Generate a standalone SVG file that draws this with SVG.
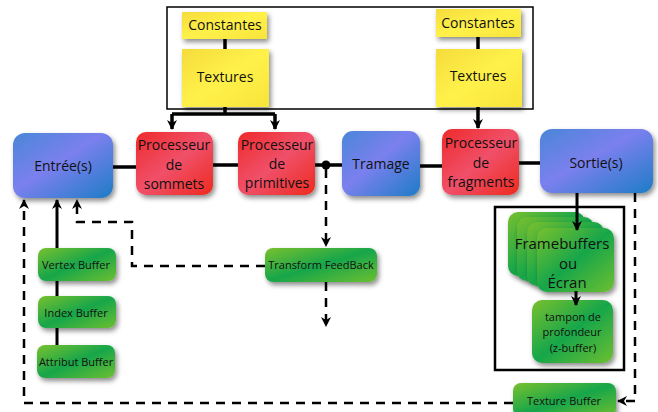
<svg xmlns="http://www.w3.org/2000/svg" width="658" height="412" viewBox="0 0 658 412">
<defs>
<linearGradient id="gBlue" x1="0" y1="0" x2="1" y2="1"><stop offset="0" stop-color="#4a86d8"/><stop offset="0.45" stop-color="#7b80ee"/><stop offset="1" stop-color="#1d7cc6"/></linearGradient>
<linearGradient id="gRed" x1="0" y1="0" x2="1" y2="1"><stop offset="0" stop-color="#ee2a2a"/><stop offset="0.5" stop-color="#f0506a"/><stop offset="1" stop-color="#ee2a1e"/></linearGradient>
<linearGradient id="gGreen" x1="0" y1="0" x2="1" y2="1"><stop offset="0" stop-color="#79c02e"/><stop offset="0.5" stop-color="#17a64a"/><stop offset="1" stop-color="#6cbf30"/></linearGradient>
<linearGradient id="gYellow" x1="0" y1="0" x2="1" y2="1"><stop offset="0" stop-color="#f5dc3c"/><stop offset="0.5" stop-color="#fff14a"/><stop offset="1" stop-color="#f8e43a"/></linearGradient>
<filter id="sh" x="-20%" y="-20%" width="150%" height="160%"><feDropShadow dx="2" dy="3" stdDeviation="2.5" flood-color="#000" flood-opacity="0.45"/></filter>
<marker id="ar" viewBox="0 0 10 10" refX="9" refY="5" markerWidth="10" markerHeight="10" markerUnits="userSpaceOnUse" orient="auto"><path d="M0,0 L10,5 L0,10 L3,5 Z" fill="#000"/></marker>
<style>
.t{font-family:"Open Sans","Liberation Sans",sans-serif;fill:#111;text-anchor:middle}
.b{font-size:14px}
.s{font-size:11px}
.ln{stroke:#000;stroke-width:3.5;fill:none}
.dl{stroke:#000;stroke-width:2.5;fill:none;stroke-dasharray:9,7}
.fr{stroke:#000;stroke-width:1.5;fill:#fff}
.yel{fill:url(#gYellow);filter:url(#sh)}
.blu{fill:url(#gBlue);filter:url(#sh)}
.red{fill:url(#gRed);filter:url(#sh)}
.grn{fill:url(#gGreen);filter:url(#sh)}
</style>
</defs>
<rect class="fr" x="167" y="7" width="366" height="102"/>
<rect x="495" y="207" width="129" height="163" fill="none" stroke="#000" stroke-width="2.5"/>
<g id="constantes1"><rect class="yel" x="182" y="12" width="85" height="27"/><text class="t b" x="225" y="30">Constantes</text></g>
<g id="textures1"><rect class="yel" x="182" y="49" width="87" height="58"/><text class="t b" x="225" y="82">Textures</text></g>
<g id="constantes2"><rect class="yel" x="436" y="9" width="85" height="28"/><text class="t b" x="478" y="28">Constantes</text></g>
<g id="textures2"><rect class="yel" x="436" y="49" width="86" height="58"/><text class="t b" x="478" y="81">Textures</text></g>
<g id="entree"><rect class="blu" x="13" y="133" width="100" height="65" rx="12"/><text class="t b" x="63" y="171">Entrée(s)</text></g>
<g id="sommets"><rect class="red" x="136" y="132" width="77" height="63" rx="10"/><text class="t b" x="174" y="150">Processeur</text><text class="t b" x="174" y="170">de</text><text class="t b" x="174" y="189">sommets</text></g>
<g id="primitives"><rect class="red" x="238" y="132" width="77" height="63" rx="10"/><text class="t b" x="277" y="150">Processeur</text><text class="t b" x="277" y="169">de</text><text class="t b" x="277" y="188">primitives</text></g>
<g id="tramage"><rect class="blu" x="342" y="131" width="78" height="65" rx="11"/><text class="t b" x="381" y="169">Tramage</text></g>
<g id="fragments"><rect class="red" x="442" y="129" width="77" height="66" rx="10"/><text class="t b" x="481" y="148">Processeur</text><text class="t b" x="481" y="168">de</text><text class="t b" x="481" y="187">fragments</text></g>
<g id="sortie"><rect class="blu" x="540" y="129" width="113" height="64" rx="12"/><text class="t b" x="596" y="168">Sortie(s)</text></g>
<g id="vertex"><rect class="grn" x="38" y="248" width="78" height="33" rx="8"/><text class="t s" x="76" y="269">Vertex Buffer</text></g>
<g id="index"><rect class="grn" x="38" y="296" width="78" height="32" rx="8"/><text class="t s" x="76" y="317">Index Buffer</text></g>
<g id="attribut"><rect class="grn" x="37" y="345" width="78" height="33" rx="8"/><text class="t s" x="76" y="366">Attribut Buffer</text></g>
<g id="feedback"><rect class="grn" x="265" y="248" width="112" height="34" rx="8"/><text class="t s" x="321" y="269">Transform FeedBack</text></g>
<g id="framebuffers">
<rect class="grn" x="508" y="212" width="77" height="64" rx="10"/>
<rect class="grn" x="517" y="217" width="77" height="64" rx="10"/>
<rect class="grn" x="527" y="222" width="77" height="64" rx="10"/>
<rect class="grn" x="537" y="228" width="77" height="64" rx="10"/>
<text class="t" style="font-size:15px" x="562" y="249">Framebuffers</text>
<text class="t" style="font-size:15px" x="568" y="269">ou</text>
<text class="t" style="font-size:15px" x="567" y="288">Écran</text>
</g>
<g id="zbuffer"><rect class="grn" x="532" y="300" width="81" height="63" rx="10"/><text class="t s" x="573" y="321">tampon de</text><text class="t s" x="572" y="336">profondeur</text><text class="t s" x="573" y="352">(z-buffer)</text></g>
<g id="texturebuffer"><rect class="grn" x="513" y="383" width="103" height="34" rx="8"/><text class="t s" x="564" y="405">Texture Buffer</text></g>
<g id="connectors">
<path class="ln" d="M225,39 V49 M478,37 V49"/>
<path class="ln" d="M225,107 V114 M172,114 H275"/>
<path class="ln" d="M172,114 V129" marker-end="url(#ar)"/>
<path class="ln" d="M275,114 V129" marker-end="url(#ar)"/>
<path class="ln" d="M478,107 V128" marker-end="url(#ar)"/>
<path class="ln" d="M113,167 H136 M213,165 H238 M315,165 H342 M420,166 H442 M519,163 H540"/>
<circle cx="326" cy="165" r="4.5" fill="#000"/>
<path class="dl" d="M326,169 V246" marker-end="url(#ar)"/>
<path class="dl" d="M326,282 V326" marker-end="url(#ar)"/>
<path class="dl" d="M265,266 H132 V222 H77 V200" marker-end="url(#ar)"/>
<path class="ln" d="M57,345 V328 M57,296 V281" style="stroke-width:3"/>
<path class="ln" d="M57,248 V200" marker-end="url(#ar)" style="stroke-width:3"/>
<path class="dl" d="M513,403 H24 V200" marker-end="url(#ar)"/>
<path class="dl" d="M635,193 V401 H618" marker-end="url(#ar)"/>
<path class="ln" d="M577,193 V230" marker-end="url(#ar)" style="stroke-width:3"/>
<path class="ln" d="M576,291 V305" marker-end="url(#ar)" style="stroke-width:3"/>
</g>
</svg>
